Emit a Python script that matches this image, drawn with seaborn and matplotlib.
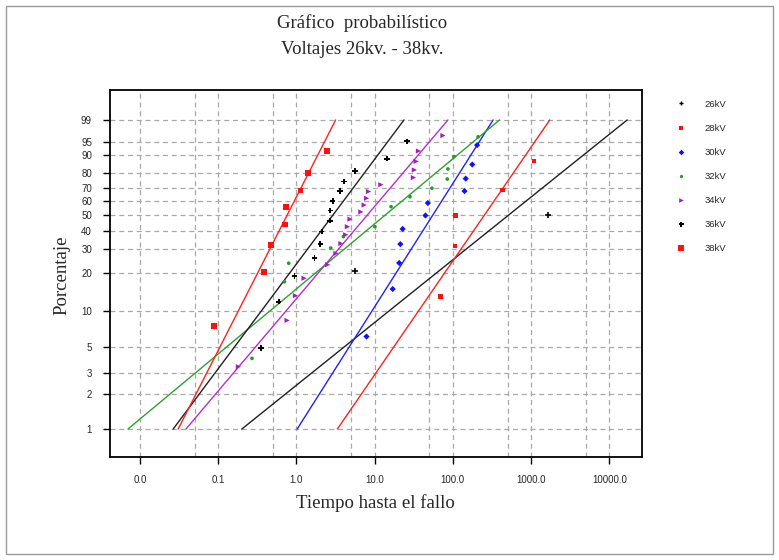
import numpy as np
import pandas as pd
import matplotlib
matplotlib.use("Agg")
import matplotlib.pyplot as plt
import seaborn as sns
from matplotlib.patches import Rectangle
from matplotlib.ticker import FixedLocator, NullLocator

# ---------------- data ----------------
labels = ["26kV", "28kV", "30kV", "32kV", "34kV", "36kV", "38kV"]

t_26 = [5.57, 1633]
p_26 = [20.6, 50.0]

t_28 = [69.5, 106, 108, 431, 1089]
p_28 = [13.0, 31.5, 50.0, 68.5, 87.0]

t_30 = [7.87, 17.0, 20.6, 21.3, 22.8, 44.6, 47.9, 141, 146, 177, 204]
p_30 = [6.1, 14.9, 23.7, 32.5, 41.2, 50.0, 58.8, 67.5, 76.3, 85.1, 93.9]

t_32 = [0.270, 0.701, 0.796, 2.74, 3.98, 10.07, 16.2, 28.3, 53.9, 84.8, 86.5, 103, 210]
p_32 = [4.0, 17.0, 23.6, 30.5, 36.6, 42.6, 56.2, 63.4, 69.6, 76.0, 82.5, 89.2, 96.3]

t_34 = [0.181, 0.759, 0.971, 1.25, 2.5, 3.2, 3.7, 4.26, 4.48, 4.84,
        6.65, 7.33, 7.87, 8.35, 12.0, 31.3, 32.2, 33.9, 36.3, 74.6]
p_34 = [3.4, 8.3, 13.2, 18.1, 23.0, 27.9, 32.8, 37.7, 42.6, 47.5,
        52.5, 57.4, 62.3, 67.2, 72.1, 77.0, 81.9, 86.8, 91.7, 96.6]

t_36 = [0.355, 0.592, 0.943, 1.70, 2.02, 2.10, 2.68, 2.71, 2.90, 3.62,
        4.06, 5.57, 14.4, 25.9]
p_36 = [4.9, 11.8, 18.8, 25.7, 32.6, 39.6, 46.5, 53.5, 60.4, 67.4,
        74.3, 81.3, 88.2, 95.1]

t_38 = [0.089, 0.38, 0.473, 0.722, 0.744, 1.125, 1.40, 2.48]
p_38 = [7.5, 20.2, 32.1, 44.0, 56.0, 67.9, 79.8, 91.7]

# fitted lines: time at 1 % and at 99 %
fit_t01 = [0.20, 3.33, 1.02, 0.0070, 0.0386, 0.0265, 0.0307]
fit_t99 = [16940, 1734, 327, 395, 86.5, 23.7, 3.17]
fit_p = [1, 99]

x_ticks = [0.01, 0.1, 1, 10, 100, 1000, 10000]
x_grid_minor = [0.05, 0.5, 5, 50, 500, 5000]
y_ticks = [1, 2, 3, 5, 10, 20, 30, 40, 50, 60, 70, 80, 90, 95, 99]

# ---------------- style ----------------
colors = ["black", "#ff1010", "#1010ff", "#20a020", "#a020c0", "black", "#ff1010"]
markers = ["+", "s", "D", "o", ">", "P", "s"]
sizes = [14, 10, 10, 7, 14, 16, 18]
line_colors = ["#202020", "#ff2020", "#2020ff", "#30a030", "#b030d0", "#202020", "#ff2020"]

sns.set_theme(style="white")
plt.rcParams["font.family"] = ["DejaVu Sans"]

fig = plt.figure(figsize=(7.79, 5.6), dpi=100)
ax = fig.add_axes([110 / 779, 1 - 457 / 560, (642 - 110) / 779, (457 - 89.5) / 560])


def fwd(p):
    p = np.clip(np.asarray(p, dtype=float) / 100.0, 1e-12, 1 - 1e-12)
    return np.log(-np.log(1 - p))


def inv(y):
    return 100.0 * (1 - np.exp(-np.exp(np.asarray(y, dtype=float))))


ax.set_xscale("log")
ax.set_yscale("function", functions=(fwd, inv))

all_t = [t_26, t_28, t_30, t_32, t_34, t_36, t_38]
all_p = [p_26, p_28, p_30, p_32, p_34, p_36, p_38]

for i, lab in enumerate(labels):
    df_line = pd.DataFrame({"t": [fit_t01[i], fit_t99[i]], "p": fit_p})
    sns.lineplot(data=df_line, x="t", y="p", ax=ax, color=line_colors[i],
                 lw=1.0, legend=False, sort=False, estimator=None)

handles = []
for i, lab in enumerate(labels):
    df = pd.DataFrame({"t": all_t[i], "p": all_p[i]})
    lw = 1.2 if markers[i] == "+" else 0
    sns.scatterplot(data=df, x="t", y="p", ax=ax, color=colors[i],
                    marker=markers[i], s=sizes[i], linewidth=lw,
                    edgecolor=colors[i] if lw else "none", zorder=5)
    handles.append(plt.Line2D([], [], ls="none", marker=markers[i], color=colors[i],
                              markersize=np.sqrt(sizes[i]) * 0.9,
                              markeredgewidth=1.0 if markers[i] == "+" else 0))

ax.set_xlim(0.00413, 26200)
ax.set_ylim(0.576, 99.978)

ax.xaxis.set_major_locator(FixedLocator(x_ticks))
ax.xaxis.set_minor_locator(FixedLocator(x_grid_minor))
ax.set_xticklabels([f"{v:.1f}" for v in x_ticks])
ax.yaxis.set_major_locator(FixedLocator(y_ticks))
ax.yaxis.set_minor_locator(NullLocator())
ax.set_yticklabels([str(v) for v in y_ticks])

ax.tick_params(axis="both", which="major", direction="out", length=5, width=1,
               color="black", labelsize=7, pad=8, bottom=True, left=True)
ax.tick_params(axis="x", which="minor", length=0)
for lbl in ax.get_xticklabels() + ax.get_yticklabels():
    lbl.set_fontfamily("Liberation Sans")

grid_kw = dict(color="#a8a8a8", linestyle=(0, (4, 3)), linewidth=0.9)
ax.grid(True, which="both", axis="x", **grid_kw)
ax.grid(True, which="major", axis="y", **grid_kw)
ax.set_axisbelow(True)

for sp in ax.spines.values():
    sp.set_visible(True)
    sp.set_color("black")
    sp.set_linewidth(1.3)

ax.set_xlabel("")
ax.set_ylabel("")
serif = ["Liberation Serif", "DejaVu Serif"]
fig.text(375 / 779, 1 - 503 / 560, "Tiempo hasta el fallo", ha="center", va="center",
         fontsize=13.5, family=serif)
fig.text(62 / 779, 1 - 275 / 560, "Porcentaje", ha="center", va="center",
         rotation=90, fontsize=13.5, family=serif)
fig.text(362 / 779, 1 - 23 / 560, "Gráfico  probabilístico", ha="center", va="center",
         fontsize=13.5, family=serif)
fig.text(362 / 779, 1 - 49 / 560, "Voltajes 26kv. - 38kv.", ha="center", va="center",
         fontsize=13.5, family=serif)

leg = fig.legend(handles, labels, loc="upper left",
                 bbox_to_anchor=(672 / 779, 1 - 96 / 560), frameon=False,
                 fontsize=6.8, labelspacing=1.6, handletextpad=2.0,
                 handlelength=1.0, borderaxespad=0)
for t in leg.get_texts():
    t.set_fontfamily("Liberation Sans")

fig.patches.append(Rectangle((6 / 779, 6 / 560), 767 / 779, 548 / 560,
                             transform=fig.transFigure, fill=False,
                             edgecolor="#9a9a9a", lw=1.0))

fig.savefig("out.png", dpi=100)
